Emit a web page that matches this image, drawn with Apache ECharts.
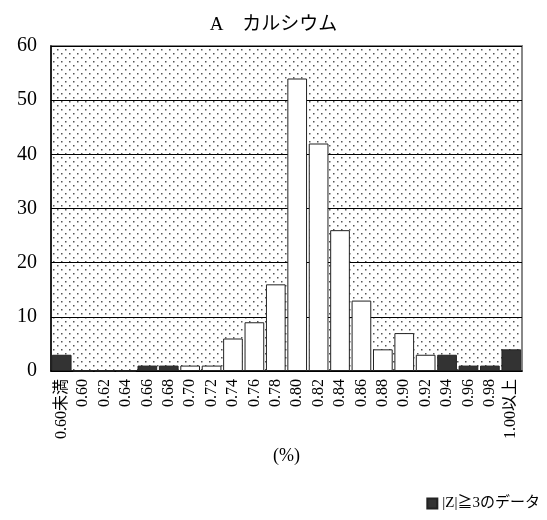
<!DOCTYPE html>
<html>
<head>
<meta charset="utf-8">
<script src="https://cdn.jsdelivr.net/npm/echarts@6/dist/echarts.min.js"></script>
<style>
  body { margin: 0; background: #fff; }
  #chart { width: 547px; height: 520px; }
</style>
</head>
<body>
<div id="chart"></div>
<script>
// categories (%)
var categories = ['0.60未満', '0.60', '0.62', '0.64', '0.66', '0.68', '0.70', '0.72', '0.74', '0.76', '0.78',
  '0.80', '0.82', '0.84', '0.86', '0.88', '0.90', '0.92', '0.94', '0.96', '0.98', '1.00以上'];
// counts
var counts = [3, 0, 0, 0, 1, 1, 1, 1, 6, 9, 16, 54, 42, 26, 13, 4, 7, 3, 3, 1, 1, 4];
// 1 = |Z|>=3
var outlier = [1, 0, 0, 0, 1, 1, 0, 0, 0, 0, 0, 0, 0, 0, 0, 0, 0, 0, 1, 1, 1, 1];
var yTicks = [0, 10, 20, 30, 40, 50, 60];

var serif = '"Liberation Serif", "Times New Roman", "Noto Sans CJK JP", serif';

// dotted background
function makeDots() {
  var c = document.createElement('canvas');
  c.width = 8; c.height = 8;
  var g = c.getContext('2d');
  g.fillStyle = '#fff';
  g.fillRect(0, 0, 8, 8);
  g.fillStyle = '#555';
  g.fillRect(1, 1, 1.5, 1.5);
  g.fillRect(5, 5, 1.5, 1.5);
  return c;
}

var normalData = counts.map(function (v, i) { return outlier[i] ? '-' : v; });
var outData = counts.map(function (v, i) { return outlier[i] ? v : '-'; });

var myChart = echarts.init(document.getElementById('chart'));
var option = {
  animation: false,
  title: {
    text: 'A　カルシウム',
    left: 'center',
    top: 11,
    textStyle: { fontFamily: serif, fontSize: 19, fontWeight: 'normal', color: '#000' }
  },
  legend: {
    data: ['|Z|≧3のデータ'],
    right: 2,
    bottom: 4,
    icon: 'rect',
    itemWidth: 10,
    itemHeight: 10,
    itemGap: 4,
    textStyle: { fontFamily: serif, fontSize: 15, color: '#000' }
  },
  grid: {
    left: 51, right: 25, top: 46, bottom: 149,
    show: true,
    backgroundColor: { image: makeDots(), repeat: 'repeat' },
    borderColor: '#888',
    borderWidth: 2
  },
  xAxis: {
    type: 'category',
    data: categories,
    name: '(%)',
    nameLocation: 'middle',
    nameGap: 68,
    nameTextStyle: { fontFamily: serif, fontSize: 18, color: '#000' },
    axisLine: { lineStyle: { color: '#000', width: 1.5 } },
    axisTick: { show: false },
    axisLabel: {
      interval: 0, rotate: 90, margin: 8,
      fontFamily: serif, fontSize: 16, color: '#000'
    }
  },
  yAxis: {
    type: 'value',
    min: yTicks[0],
    max: yTicks[yTicks.length - 1],
    interval: 10,
    axisLine: { show: true, lineStyle: { color: '#000', width: 1.5 } },
    axisTick: { show: false },
    axisLabel: { fontFamily: serif, fontSize: 20, color: '#000', margin: 14 },
    splitLine: { lineStyle: { color: '#000', width: 1 } }
  },
  series: [
    {
      name: '通常',
      type: 'bar',
      stack: 'a',
      data: normalData,
      barCategoryGap: '8%',
      itemStyle: { color: '#fff', borderColor: '#222', borderWidth: 1 }
    },
    {
      name: '|Z|≧3のデータ',
      type: 'bar',
      stack: 'a',
      data: outData,
      barCategoryGap: '8%',
      itemStyle: { color: '#333', borderColor: '#222', borderWidth: 1 }
    }
  ]
};
myChart.setOption(option);
</script>
</body>
</html>
